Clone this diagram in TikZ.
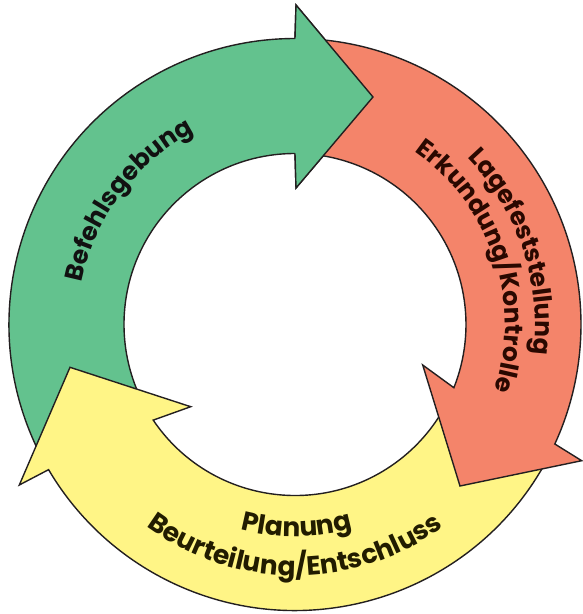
\documentclass[tikz,border=0pt]{standalone}
\usepackage{fontspec}
\setmainfont{Poppins}
\usetikzlibrary{decorations.text}
\definecolor{grn}{HTML}{63C28E}
\definecolor{sal}{HTML}{F4846A}
\definecolor{yel}{HTML}{FFF586}
\definecolor{edgec}{HTML}{231F20}
\definecolor{txtg}{HTML}{111111}
\definecolor{txtr}{HTML}{2A0800}
\definecolor{txty}{HTML}{221C00}
\newcommand\lblfont{\bfseries\fontsize{25}{30}\selectfont}
\newcommand\lblfontb{\bfseries\fontsize{26.5}{30}\selectfont}
\tikzset{
  band/.style={draw=edgec, line width=1.4pt, line join=miter},
}
\begin{document}
\begin{tikzpicture}[x=1pt,y=1pt]
\useasboundingbox (-295,-289.5) rectangle (287,324.5);
% green arrow (Befehlsgebung)
\path[band, fill=grn] (207:286) arc[start angle=207, end angle=90, radius=286]
  -- (1,319.5) -- (78,227.5) -- (1,136.5) -- (90:171)
  arc[start angle=90, end angle=207, radius=171] -- cycle;
% yellow arrow (Planung)
\path[band, fill=yel] (-27:286) arc[start angle=-27, end angle=-149.5, radius=286]
  -- (-275.7,-160.5) -- (-225,-42.8) -- (-104.3,-82.2) -- (-146:171)
  arc[start angle=-146, end angle=-27, radius=171] -- cycle;
% red arrow (Lagefeststellung)
\path[band, fill=sal] (88:286) arc[start angle=88, end angle=-24.7, radius=286]
  -- (286.7,-136.2) -- (165,-161.5) -- (127.7,-40.5) -- (-21.7:171)
  arc[start angle=-21.7, end angle=88, radius=171] -- cycle;
% green head on top
\fill[grn] (90:286) -- (1,319.5) -- (78,227.5) -- (1,136.5) -- (90:171) -- cycle;
\draw[band] (90:286) -- (1,319.5) -- (78,227.5) -- (1,136.5) -- (90:171);
% labels
\path[decorate, decoration={text along path, text align=center, text color=txtg,
  text={|\lblfont|Befehlsgebung}}] (195:217) arc[start angle=195, end angle=91.4, radius=217];
\path[decorate, decoration={text along path, text align=center, text color=txtr,
  text={|\lblfont|Lagefeststellung}}] (70:240) arc[start angle=70, end angle=-33, radius=240];
\path[decorate, decoration={text along path, text align=center, text color=txtr,
  text={|\lblfont|Erkundung/Kontrolle}}] (75:210) arc[start angle=75, end angle=-38, radius=210];
\path[decorate, decoration={text along path, text align=center, text color=txty,
  text={|\lblfontb|Planung}}] (230:212) arc[start angle=230, end angle=311, radius=212];
\path[decorate, decoration={text along path, text align=center, text color=txty,
  text={|\lblfontb|Beurteilung/Entschluss}}] (220:251) arc[start angle=220, end angle=320, radius=251];
\end{tikzpicture}
\end{document}
